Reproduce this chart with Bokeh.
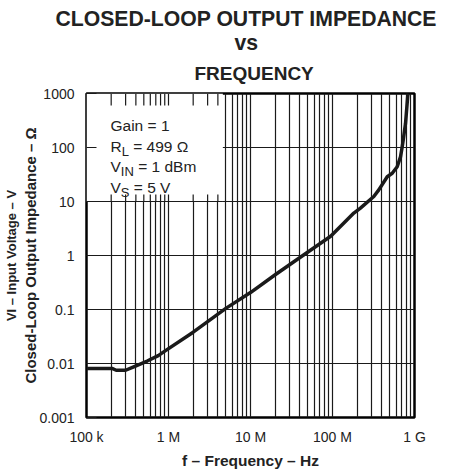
import math
from bokeh.plotting import figure
from bokeh.models import FixedTicker, Label, Range1d, Title
from bokeh.embed import file_html
from bokeh.resources import INLINE

# ---------------- data ----------------
freq_hz = [1e5, 2.05e5, 2.3e5, 3.0e5, 3.7e5, 5.5e5, 7.5e5, 9.2e5, 2.0e6, 5.0e6,
           1.0e7, 2.0e7, 3.7e7, 9.5e7, 1.82e8, 2.19e8, 3.19e8, 3.67e8, 4.65e8,
           5.35e8, 6.15e8, 6.75e8, 7.08e8, 7.28e8, 7.77e8, 8.28e8, 8.4e8]
impedance_ohm = [0.0081, 0.0081, 0.0075, 0.0075, 0.0086, 0.0111, 0.014, 0.0173, 0.038, 0.105,
                 0.206, 0.44, 0.845, 2.27, 6.1, 7.55, 12.4, 16.4, 28.8,
                 33.3, 44, 67, 103, 136, 277, 912, 1000]

x_ticks = [1e5, 1e6, 1e7, 1e8, 1e9]
x_tick_labels = ["100 k", "1 M", "10 M", "100 M", "1 G"]
y_ticks = [0.001, 0.01, 0.1, 1, 10, 100, 1000]
y_tick_labels = ["0.001", "0.01", "0.1", "1", "10", "100", "1000"]
minor_mantissas = [2, 3, 4, 5, 6, 7, 8, 9]

title_lines = ["CLOSED-LOOP OUTPUT IMPEDANCE", "vs", "FREQUENCY"]
x_label = "f – Frequency – Hz"
y_label = "Closed-Loop Output Impedance – Ω"
cut_label = "VI – Input Voltage – V"
conditions = [("Gain = 1", "", ""), ("R", "L", "= 499 Ω"),
              ("V", "IN", "= 1 dBm"), ("V", "S", "= 5 V")]

FONT = "Liberation Sans"
INK = "#1a1a1a"
TXT = "#222222"

x_minor = [m * 10 ** k for k in range(5, 9) for m in minor_mantissas]
X0, X1 = x_ticks[0], x_ticks[-1]
Y0, Y1 = y_ticks[0], y_ticks[-1]

# ---------------- figure ----------------
p = figure(width=454, height=471, x_axis_type="log", y_axis_type="log",
           x_range=Range1d(X0, X1), y_range=Range1d(Y0, Y1),
           output_backend="svg", toolbar_location=None, title_location=None,
           min_border_left=86, min_border_right=40, min_border_top=93,
           min_border_bottom=52, background_fill_color="white",
           border_fill_color="white")

p.outline_line_color = "black"
p.outline_line_width = 2.5

# axes
p.xaxis.ticker = FixedTicker(ticks=x_ticks, minor_ticks=x_minor)
p.yaxis.ticker = FixedTicker(ticks=y_ticks, minor_ticks=[])
p.xaxis.major_label_overrides = {t: s for t, s in zip(x_ticks, x_tick_labels)}
p.yaxis.major_label_overrides = {t: s for t, s in zip(y_ticks, y_tick_labels)}

for ax in (p.xaxis[0], p.yaxis[0]):
    ax.axis_line_color = None
    ax.minor_tick_in = 0
    ax.minor_tick_out = 0
    ax.major_tick_out = 0
    ax.major_tick_line_color = INK
    ax.major_tick_line_width = 1.2
    ax.major_label_text_font = FONT
    ax.major_label_text_font_size = "14px"
    ax.major_label_text_color = TXT
    ax.axis_label_text_font = FONT
    ax.axis_label_text_font_style = "bold"
    ax.axis_label_text_color = TXT

p.xaxis.major_tick_in = 0
p.xaxis.major_label_standoff = 11
p.xaxis.axis_label = x_label
p.xaxis.axis_label_text_font_size = "15.5px"
p.xaxis.axis_label_standoff = 4

p.yaxis.major_tick_in = 10
p.yaxis.major_label_standoff = 12
p.yaxis.axis_label = y_label
p.yaxis.axis_label_text_font_size = "15px"
p.yaxis.axis_label_standoff = -3

# grid
p.xgrid.grid_line_color = INK
p.xgrid.grid_line_width = 1.2
p.xgrid.minor_grid_line_color = INK
p.xgrid.minor_grid_line_width = 1.2
p.ygrid.grid_line_color = INK
p.ygrid.grid_line_width = 1.2

# titles (the first one added sits nearest the plot); left-aligned with offsets
title_styles = {  # line: (standoff, offset from frame left, font size)
    "FREQUENCY": (19, 108, "19px"),
    "vs": (-5, 148, "21.2px"),
    "CLOSED-LOOP OUTPUT IMPEDANCE": (3, -31, "21.2px"),
}
for line in reversed(title_lines):
    so, off, fs = title_styles[line]
    p.add_layout(Title(text=line, align="left", offset=off, standoff=so,
                       text_font=FONT, text_font_size=fs, text_font_style="bold",
                       text_color=TXT), "above")

# second, outer y label at the very left edge
p.add_layout(Title(text=cut_label, align="center", standoff=1,
                   text_font=FONT, text_font_size="13px", text_font_style="bold",
                   text_color=TXT), "left")

# annotation box that hides the grid in the upper-left corner
box_right = 4.6e6
p.quad(left=[X0], right=[box_right], bottom=[y_ticks[4]], top=[Y1],
       fill_color="white", line_color=None)
p.segment(x0=[X0], x1=[box_right], y0=[y_ticks[4]], y1=[y_ticks[4]],
          line_color=INK, line_width=1.2)
box_ticks = [v for v in ([m * 10 ** k for k in range(5, 7) for m in [1] + minor_mantissas])
             if X0 < v < box_right]
p.ray(x=box_ticks, y=[Y1] * len(box_ticks), length=12, length_units="screen",
      angle=-math.pi / 2, line_color=INK, line_width=1.2)
p.ray(x=box_ticks, y=[y_ticks[4]] * len(box_ticks), length=7, length_units="screen",
      angle=math.pi / 2, line_color=INK, line_width=1.2)

# curve
p.line(freq_hz, impedance_ohm, line_width=3.5, line_color=INK, line_join="round")

# test conditions text
W = {"R": 0.722, "V": 0.667, "L": 0.556, "I": 0.278, "N": 0.722, "S": 0.667, " ": 0.278}
def width(s, size):
    return sum(W.get(c, 0.556) for c in s) * size

BIG, SUB = 15.5, 13
for i, (main, sub, rest) in enumerate(conditions):
    yo = -32 - 20.6 * i
    p.add_layout(Label(x=X0, y=Y1, x_offset=24, y_offset=yo, text=main,
                       text_font=FONT, text_font_size=f"{BIG}px", text_color=TXT,
                       text_baseline="alphabetic"))
    if sub:
        xo = 24 + width(main, BIG)
        p.add_layout(Label(x=X0, y=Y1, x_offset=xo, y_offset=yo - 5,
                           text=sub, text_font=FONT, text_font_size=f"{SUB}px",
                           text_color=TXT, text_baseline="alphabetic"))
        xo += width(sub, SUB) + width(" ", BIG)
        p.add_layout(Label(x=X0, y=Y1, x_offset=xo, y_offset=yo,
                           text=rest, text_font=FONT, text_font_size=f"{BIG}px",
                           text_color=TXT, text_baseline="alphabetic"))

open("out.html", "w").write(file_html(p, INLINE))
